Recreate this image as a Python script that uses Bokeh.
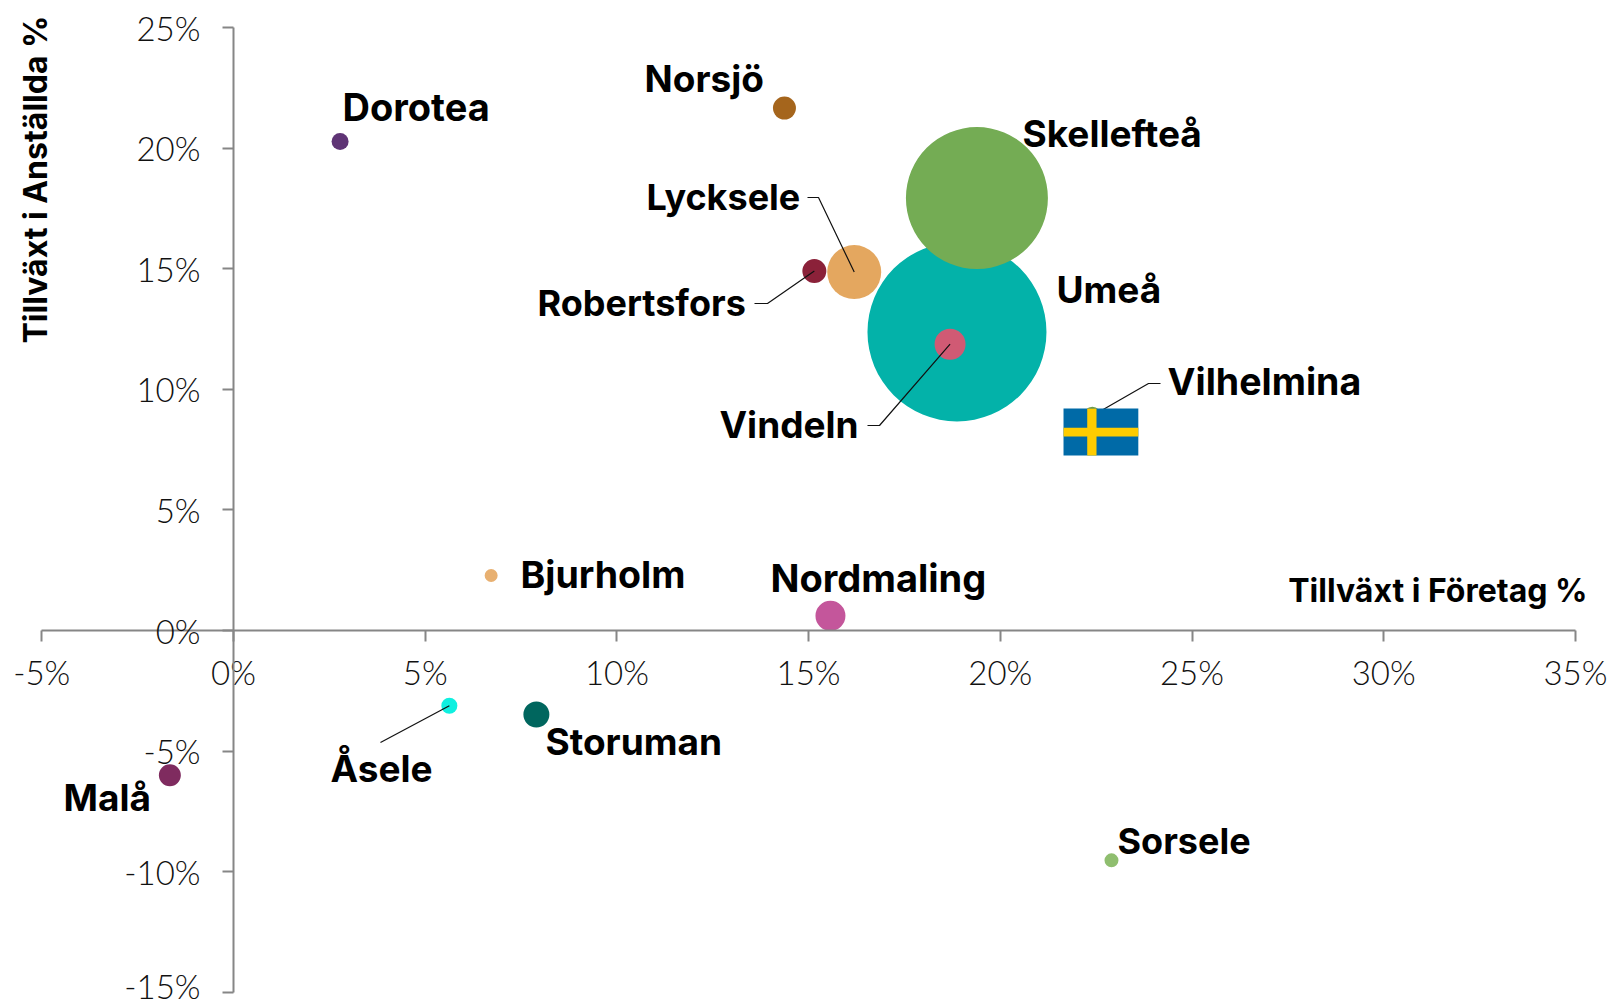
from bokeh.plotting import figure
from bokeh.models import Range1d, FixedTicker, ColumnDataSource
from bokeh.core.properties import value
from bokeh.embed import file_html
from bokeh.resources import INLINE
import math

# ---------- data ----------
municipalities = ["Umeå", "Skellefteå", "Lycksele", "Robertsfors", "Vindeln", "Dorotea", "Norsjö", "Vilhelmina",
                  "Bjurholm", "Nordmaling", "Åsele", "Storuman", "Malå", "Sorsele"]
growth_companies = [18.87, 19.39, 16.19, 15.15, 18.69, 2.78, 14.37, 22.40, 6.72, 15.57, 5.63, 7.90, -1.66, 22.90]
growth_employees = [12.38, 17.93, 14.86, 14.90, 11.87, 20.27, 21.66, 8.90, 2.28, 0.61, -3.12, -3.48, -6.00, -9.53]
bubble_size = [179, 142, 54, 24, 31, 17, 23, 18, 13, 30, 16, 26, 22, 14]
colors = ["#03b2a9", "#74ac54", "#e4a75f", "#8b2139", "#d05a74", "#5f3475", "#a5651c", "#6f9c48",
          "#e8b071", "#c4569b", "#0ff0e0", "#00665e", "#7f2b5f", "#8fbe6f"]
x_ticks = [-5, 0, 5, 10, 15, 20, 25, 30, 35]
y_ticks = [-15, -10, -5, 0, 5, 10, 15, 20, 25]
x_title = "Tillväxt i Företag %"
y_title = "Tillväxt i Anställda %"

# ---------- layout (page pixels) ----------
W, H = 1613, 1005
PX_X0, PX_PER_X = 233.0, 38.34
PX_Y0, PX_PER_Y = 630.0, 24.12
def dx(px): return (px - PX_X0) / PX_PER_X
def dy(py): return (PX_Y0 - py) / PX_PER_Y

label_anchor = {
    "Dorotea": (342, 120, 38), "Norsjö": (644, 92, 37), "Skellefteå": (1022, 147, 37), "Lycksele": (646, 210, 36),
    "Robertsfors": (537, 316, 36), "Umeå": (1056, 303, 37), "Vindeln": (719, 438, 37), "Vilhelmina": (1167, 395, 37.5),
    "Bjurholm": (520, 588, 37.5), "Nordmaling": (770, 591, 38), "Åsele": (330, 782, 37), "Storuman": (545, 755, 37),
    "Malå": (63, 811, 37), "Sorsele": (1117, 854, 36),
}
leaders = {
    "Lycksele": [(807, 197), (818, 197)],
    "Robertsfors": [(754, 303), (767, 303)],
    "Vindeln": [(867, 425), (879, 425)],
    "Vilhelmina": [(1160, 383), (1148, 383)],
    "Åsele": [(380, 742)],
}

p = figure(width=W, height=H, output_backend="svg", toolbar_location=None,
           x_range=Range1d(dx(0), dx(W)), y_range=Range1d(dy(H), dy(0)),
           min_border=0, min_border_left=0, min_border_right=0, min_border_top=0, min_border_bottom=0,
           outline_line_color=None, background_fill_color="white", border_fill_color="white")
p.grid.visible = False

for ax, ticks, bounds in ((p.xaxis, x_ticks, (-5, 35)), (p.yaxis, y_ticks, (-15, 25))):
    ax.fixed_location = 0
    ax.bounds = bounds
    ax.ticker = FixedTicker(ticks=ticks)
    ax.major_label_overrides = {t: f"{t}%" for t in ticks}
    ax.axis_line_color = "#868686"
    ax.axis_line_width = 2
    ax.major_tick_line_color = "#868686"
    ax.major_tick_line_width = 2
    ax.major_tick_in = 0
    ax.major_tick_out = 11
    ax.minor_tick_line_color = None
    ax.major_label_text_font = "Lato Light"
    ax.major_label_text_font_size = "33px"
    ax.major_label_text_color = "#111111"
p.xaxis.major_label_standoff = 10
p.yaxis.major_label_standoff = 22

src = ColumnDataSource(dict(x=growth_companies, y=growth_employees, s=bubble_size, c=colors))
p.scatter("x", "y", size="s", fill_color="c", line_color=None, source=src)

# leader lines
idx = {m: i for i, m in enumerate(municipalities)}
xs, ys = [], []
for m, pts in leaders.items():
    xs.append([dx(a) for a, _ in pts] + [growth_companies[idx[m]]])
    ys.append([dy(b) for _, b in pts] + [growth_employees[idx[m]]])
p.multi_line(xs, ys, line_color="#111111", line_width=1.2)

# Swedish flag over Vilhelmina
fx, fy = growth_companies[idx["Vilhelmina"]], growth_employees[idx["Vilhelmina"]]
def flag(l, r, t, b, c):
    p.quad(left=[fx + l / PX_PER_X], right=[fx + r / PX_PER_X], top=[fy - t / PX_PER_Y], bottom=[fy - b / PX_PER_Y],
           fill_color=c, line_color=None)
flag(-28.8, 46, -7.3, 39.7, "#006aa7")
flag(-5.1, 4.2, -7.3, 39.7, "#fecc00")
flag(-28.8, 46, 12, 20.7, "#fecc00")

# labels
names = list(label_anchor)
label_src = ColumnDataSource(dict(
    x=[dx(label_anchor[n][0]) for n in names],
    y=[dy(label_anchor[n][1]) for n in names],
    t=names,
    fs=[f"{label_anchor[n][2]}px" for n in names],
))
p.text("x", "y", text="t", source=label_src, text_font=value("Inter"), text_font_style="bold",
       text_font_size="fs", text_color="#000000", text_align="left", text_baseline="alphabetic", y_offset=-14)
p.text([dx(1587)], [dy(601)], text=[x_title], text_font=value("Inter"), text_font_style="bold",
       text_font_size="32px", text_color="#000000", text_align="right", text_baseline="alphabetic", y_offset=-11)
p.text([dx(47)], [dy(343)], text=[y_title], angle=math.pi / 2, text_font=value("Inter"), text_font_style="bold",
       text_font_size="32px", text_color="#000000", text_align="left", text_baseline="alphabetic", x_offset=-12)

open("out.html", "w").write(file_html(p, INLINE))
